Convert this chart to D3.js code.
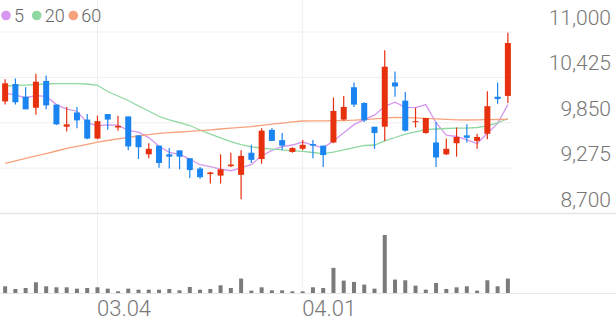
<!DOCTYPE html>
<html>
<head>
<meta charset="utf-8">
<script src="https://cdn.jsdelivr.net/npm/d3@7"></script>
<style>
  body { margin: 0; background: #fff; }
  svg { display: block; font-family: Roboto, "Noto Sans", sans-serif; }
</style>
</head>
<body>
<svg id="chart" width="616" height="321"></svg>
<script>
// trading days shown on the chart
var dates = ["02.19","02.20","02.21","02.22","02.23","02.26","02.27","02.28","02.29",
  "03.04","03.05","03.06","03.07","03.08","03.11","03.12","03.13","03.14","03.15",
  "03.18","03.19","03.20","03.21","03.22","03.25","03.26","03.27","03.28","03.29",
  "04.01","04.02","04.03","04.04","04.05","04.08","04.09","04.11","04.12",
  "04.15","04.16","04.17","04.18","04.19","04.22","04.23","04.24","04.25","04.26",
  "04.29","04.30"];

var opens = [10120,10340,10180,10040,10380,10080,9800,9980,9890,9650,
  9960,9790,9930,9690,9450,9560,9450,9500,9400,9270,
  9200,9180,9300,9190,9470,9390,9760,9630,9480,9520,
  9580,9560,9600,9890,10300,10100,9800,9800,10360,10130,
  9860,9720,9600,9450,9590,9690,9620,9710,10180,10190];
var highs = [10400,10410,10300,10470,10450,10080,10050,10050,9960,9940,
  9960,9940,9930,9690,9590,9560,9530,9500,9400,9290,
  9230,9450,9470,9500,9570,9780,9780,9720,9540,9630,
  9630,9560,10170,10190,10360,10110,9800,10770,10500,10240,
  10040,9910,9860,9650,9790,9830,9710,10250,10360,10990];
var lows = [10080,10080,10020,9950,10020,9820,9740,9780,9640,9640,
  9760,9750,9500,9390,9400,9280,9270,9260,9150,9140,
  9080,9080,9290,8880,9340,9330,9620,9500,9470,9500,
  9400,9290,9590,9880,10050,9860,9520,9620,10180,9740,
  9790,9710,9290,9440,9420,9600,9520,9640,10090,10100];
var closes = [10350,10110,10020,10370,10070,9830,9830,9880,9650,9870,
  9890,9810,9550,9540,9520,9340,9420,9420,9250,9160,
  9220,9260,9320,9430,9380,9750,9620,9560,9530,9570,
  9560,9440,10000,10050,10080,9880,9720,10560,10310,9750,
  9870,9910,9410,9520,9670,9660,9670,10060,10150,10860];
// volume, thousand shares
var volumes = [20,12,15,32,20,17,17,13,15,17,
  13,5,13,10,10,10,12,8,18,10,
  12,23,15,43,7,17,8,8,5,5,
  17,15,75,37,33,25,13,173,40,38,
  22,10,30,12,17,20,7,38,20,43];

var ma5 = [10230,10200,10167,10193,10184,10080,10024,9996,9852,9812,
  9824,9820,9754,9732,9662,9552,9474,9448,9390,9318,
  9294,9262,9242,9278,9322,9428,9500,9548,9568,9606,
  9568,9532,9620,9724,9826,9890,9946,10058,10110,10044,
  10042,10080,9850,9692,9676,9634,9586,9716,9842,10080];
var ma20 = [10316,10322,10328,10335,10341,10345,10345,10345,10341,10325,
  10246,10189,10132,10062,9999,9929,9885,9853,9815,9758,
  9707,9657,9612,9574,9543,9530,9517,9505,9498,9486,
  9473,9460,9479,9505,9536,9562,9568,9619,9663,9707,
  9733,9764,9771,9777,9783,9783,9790,9809,9847,9904];
var ma60 = [9336,9368,9398,9429,9460,9492,9525,9552,9577,9604,
  9625,9645,9666,9682,9699,9715,9724,9733,9740,9749,
  9759,9771,9781,9791,9801,9818,9833,9846,9860,9872,
  9874,9875,9876,9877,9882,9890,9898,9908,9918,9915,
  9912,9906,9900,9894,9887,9885,9887,9890,9891,9894];

var priceTicks = [8700, 9275, 9850, 10425, 11000];
var dateTicks = ["03.04", "04.01"];
var maNames = ["5", "20", "60"];

var upColor = "#e6300e", downColor = "#1a84f0";
var maColors = ["#d597ef", "#8fd8a2", "#f6a27d"];

var svg = d3.select("#chart"),
    width = +svg.attr("width");

var x = d3.scaleBand()
    .domain(dates)
    .range([0, 513]);

var y = d3.scaleLinear()
    .domain([8700, 11000])
    .range([213.5, 32]);

var yVol = d3.scaleLinear()
    .domain([0, d3.max(volumes)])
    .range([293, 235]);

var cx = function(i) { return x(dates[i]) + x.bandwidth() / 2; };

// grid
svg.append("g")
  .selectAll("line")
  .data(priceTicks.slice(1))
  .enter().append("line")
    .attr("x1", 0).attr("x2", 512)
    .attr("y1", function(d) { return y(d); })
    .attr("y2", function(d) { return y(d); })
    .attr("stroke", "#efefef");

svg.append("g")
  .selectAll("line")
  .data(dateTicks)
  .enter().append("line")
    .attr("x1", function(d) { return x(d) + x.bandwidth() / 2; })
    .attr("x2", function(d) { return x(d) + x.bandwidth() / 2; })
    .attr("y1", 0).attr("y2", 293)
    .attr("stroke", "#efefef");

svg.append("line")
  .attr("x1", 0).attr("x2", width)
  .attr("y1", y(8700)).attr("y2", y(8700))
  .attr("stroke", "#e6e6e6")
  .attr("stroke-width", 1.5);

svg.append("line")
  .attr("x1", 0).attr("x2", width)
  .attr("y1", 293.5).attr("y2", 293.5)
  .attr("stroke", "#e6e6e6");

// price labels
svg.append("g")
  .selectAll("text")
  .data(priceTicks)
  .enter().append("text")
    .attr("x", 611)
    .attr("y", function(d) { return y(d) - 7; })
    .attr("text-anchor", "end")
    .attr("fill", "#777")
    .attr("font-size", 21)
    .attr("font-weight", 300)
    .text(function(d) { return d3.format(",")(d); });

// date labels
svg.append("g")
  .selectAll("text")
  .data(dateTicks)
  .enter().append("text")
    .attr("x", function(d) { return x(d) + x.bandwidth() / 2 - 0.5; })
    .attr("y", 316)
    .attr("fill", "#777")
    .attr("font-size", 22)
    .attr("font-weight", 300)
    .text(function(d) { return d; });

// moving averages
[ma5, ma20, ma60].forEach(function(series, k) {
  var line = d3.line()
    .x(function(d, i) { return cx(i); })
    .y(function(d) { return y(d); });
  svg.append("path")
    .datum(series)
    .attr("d", line)
    .attr("fill", "none")
    .attr("stroke", maColors[k])
    .attr("stroke-width", 1.3);
});

// candles
var candle = svg.append("g")
  .selectAll("g")
  .data(dates)
  .enter().append("g");

candle.append("line")
  .attr("x1", function(d, i) { return cx(i); })
  .attr("x2", function(d, i) { return cx(i); })
  .attr("y1", function(d, i) { return y(highs[i]); })
  .attr("y2", function(d, i) { return y(lows[i]); })
  .attr("stroke", function(d, i) { return closes[i] >= opens[i] ? upColor : downColor; })
  .attr("stroke-width", 1.2);

candle.append("rect")
  .attr("x", function(d, i) { return cx(i) - 3; })
  .attr("width", 6)
  .attr("y", function(d, i) { return y(Math.max(opens[i], closes[i])); })
  .attr("height", function(d, i) { return Math.max(1, Math.abs(y(opens[i]) - y(closes[i]))); })
  .attr("fill", function(d, i) { return closes[i] >= opens[i] ? upColor : downColor; });

// volume
svg.append("g")
  .selectAll("rect")
  .data(volumes)
  .enter().append("rect")
    .attr("x", function(d, i) { return cx(i) - 2; })
    .attr("width", 4)
    .attr("y", function(d) { return yVol(d); })
    .attr("height", function(d) { return 293 - yVol(d); })
    .attr("fill", "#7b7b7b");

// legend
var legend = svg.append("g")
  .selectAll("g")
  .data(maNames)
  .enter().append("g")
    .attr("transform", function(d, i) { return "translate(" + [6, 36.7, 73.3][i] + ",15.5)"; });

legend.append("circle")
  .attr("r", 4.8)
  .attr("fill", function(d, i) { return maColors[i]; });

legend.append("text")
  .attr("x", 8)
  .attr("y", 6.5)
  .attr("fill", "#666")
  .attr("font-size", 18)
  .attr("font-weight", 300)
  .text(function(d) { return d; });
</script>
</body>
</html>
